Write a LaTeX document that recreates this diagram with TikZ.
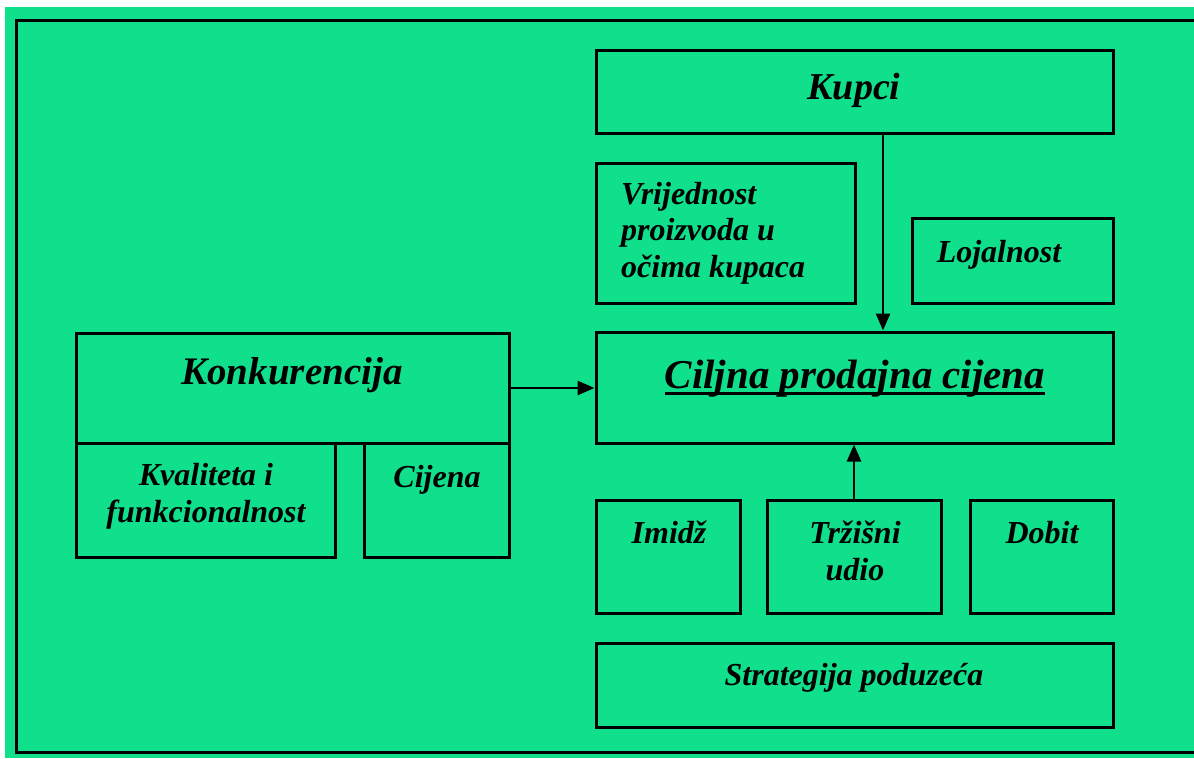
\documentclass[tikz,border=0pt]{standalone}
\usepackage{fontspec}
\setmainfont{Liberation Serif}
\usetikzlibrary{arrows.meta,fit}
\definecolor{bg}{RGB}{16,224,140}
\begin{document}
\begin{tikzpicture}[x=1pt,y=-1pt,
  box/.style={draw=black,line width=3pt,inner sep=0pt,rectangle},
  lbl/.style={inner sep=0pt,font=\bfseries\itshape\fontsize{32}{37}\selectfont,anchor=base},
  big/.style={inner sep=0pt,font=\bfseries\itshape\fontsize{39}{44}\selectfont,anchor=base},
  arr/.style={line width=2.6pt,-{Triangle[length=17pt,width=14pt]}}]
\useasboundingbox (0,0) rectangle (1194,758);
\fill[white] (0,0) rectangle (1194,758);
\fill[bg] (5,7) rectangle (1194,758);
\draw[line width=3pt] (1196,20) -- (16,20) -- (16,752) -- (1196,752);
% boxes
\node[box,fit={(596,50) (1113,133)}] (kupci) {};
\node[box,fit={(596,163) (855,303)}] (vrij) {};
\node[box,fit={(912,218) (1113,303)}] (loj) {};
\node[box,fit={(596,332) (1113,443)}] (cilj) {};
\node[box,fit={(76,333) (509,443)}] (konk) {};
\node[box,fit={(76,443) (335,557)}] (kval) {};
\node[box,fit={(364,443) (509,557)}] (cij) {};
\node[box,fit={(596,500) (740,613)}] (imidz) {};
\node[box,fit={(767,500) (941,613)}] (trz) {};
\node[box,fit={(970,500) (1113,613)}] (dobit) {};
\node[box,fit={(596,643) (1113,727)}] (strat) {};
% texts
\node[big,font=\bfseries\itshape\fontsize{38}{44}\selectfont] (kupci-t) at (854,99) {Kupci};
\node[lbl,anchor=base west] (vrij-t1) at (621,204) {Vrijednost};
\node[lbl,anchor=base west] (vrij-t2) at (621,240) {proizvoda u};
\node[lbl,anchor=base west] (vrij-t3) at (621,277) {očima kupaca};
\node[lbl] (loj-t) at (999,262) {Lojalnost};
\node[big,font=\bfseries\itshape\fontsize{41}{44}\selectfont] (cilj-t) at (855,388) {Ciljna prodajna cijena};
\draw[line width=3pt] ([yshift=-5pt]cilj-t.base west) -- ([yshift=-5pt]cilj-t.base east);
\node[big] (konk-t) at (292,384) {Konkurencija};
\node[lbl] (kval-t1) at (206,485) {Kvaliteta i};
\node[lbl] (kval-t2) at (206,522) {funkcionalnost};
\node[lbl] (cij-t) at (437,487) {Cijena};
\node[lbl] (imidz-t) at (669,543) {Imidž};
\node[lbl] (trz-t1) at (855,543) {Tržišni};
\node[lbl] (trz-t2) at (855,580) {udio};
\node[lbl] (dobit-t) at (1042,543) {Dobit};
\node[lbl] (strat-t) at (854,685) {Strategija poduzeća};
% arrows
\draw[arr] ([xshift=28.5pt]kupci.south) -- ([xshift=28.5pt]cilj.north);
\draw[arr] (konk.east) -- (konk.east -| cilj.west);
\draw[arr] (trz.north) -- (trz.north |- cilj.south);
\end{tikzpicture}
\end{document}
